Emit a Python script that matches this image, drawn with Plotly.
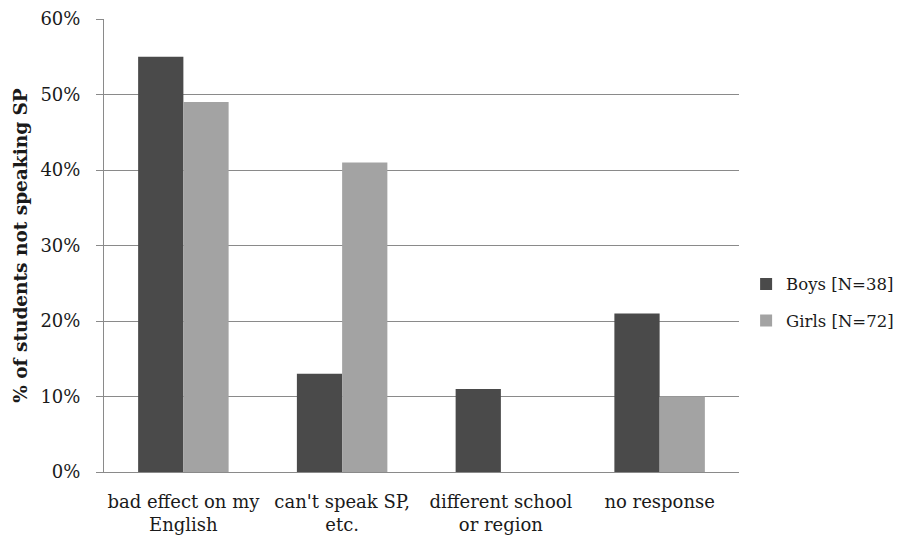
import plotly.graph_objects as go

categories = ["bad effect on my<br>English", "can't speak SP,<br>etc.", "different school<br>or region", "no response"]
boys = [55, 13, 11, 21]
girls = [49, 41, 0, 10]
series_names = ["Boys [N=38]", "Girls [N=72]"]
y_ticks = [0, 10, 20, 30, 40, 50, 60]
y_tick_labels = ["0%", "10%", "20%", "30%", "40%", "50%", "60%"]

FONT = "DejaVu Serif"
FS = 18

fig = go.Figure()
fig.add_trace(go.Bar(x=categories, y=boys, name=series_names[0], marker_color="#4a4a4a",
                     marker_line_width=0, legendgroup="b"))
fig.add_trace(go.Bar(x=categories, y=girls, name=series_names[1], marker_color="#a3a3a3",
                     marker_line_width=0, legendgroup="g"))

fig.update_layout(
    width=909, height=536,
    margin=dict(l=96, r=178, t=11, b=72, autoexpand=False),
    paper_bgcolor="white", plot_bgcolor="white",
    barmode="group", bargap=0.43, bargroupgap=0,
    font=dict(family=FONT, size=FS, color="#1a1a1a"),
    legend=dict(xref="container", yref="container", x=0.812, y=0.451,
                yanchor="middle", xanchor="left",
                font=dict(family=FONT, size=16.5), tracegroupgap=12, itemwidth=30),
    showlegend=True,
)
fig.update_yaxes(
    range=[0, 60.01], tickvals=y_ticks, ticktext=y_tick_labels,
    showgrid=True, gridcolor="#8a8a8a", gridwidth=1,
    showline=True, linecolor="#8a8a8a", linewidth=1,
    ticks="outside", ticklen=7, tickcolor="#8a8a8a",
    ticklabelstandoff=12,
    zeroline=False, automargin=False,
    title=dict(text="<b>% of students not speaking SP</b>", font=dict(family=FONT, size=18.5), standoff=7),
)
fig.update_xaxes(
    showline=True, linecolor="#8a8a8a", linewidth=1,
    ticks="", tickfont=dict(family=FONT, size=FS),
    ticklabelstandoff=13, automargin=False,
)

fig.write_html("out.html")
